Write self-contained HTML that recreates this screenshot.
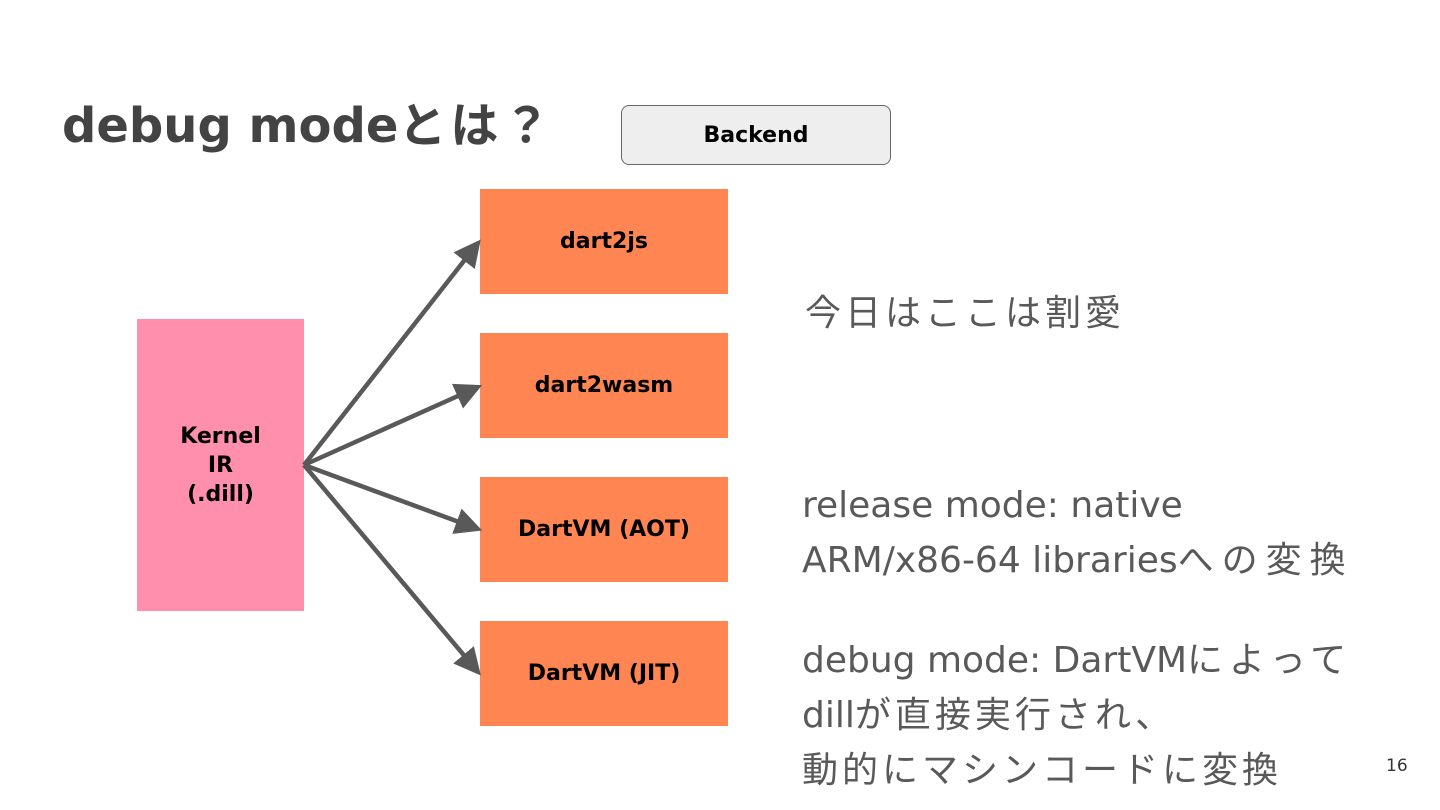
<!DOCTYPE html>
<html><head><meta charset="utf-8"><style>
body{margin:0;width:1440px;height:810px;background:#fff;position:relative;overflow:hidden;font-family:"DejaVu Sans","Noto Sans CJK JP",sans-serif}
.a{position:absolute}
.box{position:absolute;display:flex;align-items:center;justify-content:center;text-align:center;font-weight:bold;font-size:22px;color:#000;line-height:29px;font-family:"DejaVu Sans","Noto Sans CJK JP",sans-serif}
.o{background:#ff8552;left:480px;width:248px;height:105px}
.t{position:absolute;color:#595959;font-size:36px;line-height:55px;font-family:"DejaVu Sans","Noto Sans CJK JP",sans-serif}
.j{letter-spacing:4px}
</style></head><body>
<div class="a" style="left:62px;top:86px;font-size:48px;font-weight:bold;color:#434343;font-family:'DejaVu Sans','Noto Sans CJK JP',sans-serif">debug mode<span class="j">とは？</span></div>
<div class="box" style="left:621px;top:105px;width:270px;height:60px;background:#eeeeee;border:1.5px solid #666;border-radius:8px;box-sizing:border-box">Backend</div>
<div class="box" style="left:137px;top:319px;width:167px;height:292px;background:#ff8fad">Kernel<br>IR<br>(.dill)</div>
<div class="box o" style="top:189px">dart2js</div>
<div class="box o" style="top:333px">dart2wasm</div>
<div class="box o" style="top:477px">DartVM (AOT)</div>
<div class="box o" style="top:621px">DartVM (JIT)</div>
<svg class="a" style="left:0;top:0" width="1440" height="810">
<defs><marker id="m" markerWidth="6" markerHeight="6" refX="5" refY="3" orient="auto" markerUnits="strokeWidth"><path d="M0,0L6,3L0,6z" fill="#595959"/></marker></defs>
<g stroke="#595959" stroke-width="4.5" fill="none" marker-end="url(#m)">
<line x1="304" y1="465" x2="478" y2="243"/>
<line x1="304" y1="465" x2="478" y2="387"/>
<line x1="304" y1="465" x2="478" y2="529"/>
<line x1="304" y1="465" x2="478" y2="672"/>
</g></svg>
<div class="t" style="left:805px;top:286px;letter-spacing:4px">今日はここは割愛</div>
<div class="t" style="left:802px;top:478px">release mode: native<br>ARM/x86-64 libraries<span class="j" style="letter-spacing:8px">への変換</span></div>
<div class="t" style="left:802px;top:633px">debug mode: DartVM<span class="j" style="letter-spacing:6px">によって</span><br>dill<span class="j">が直接実行され、</span><br><span class="j">動的にマシンコードに変換</span></div>
<div class="a" style="left:1386px;top:756px;font-size:17px;color:#333">16</div>
</body></html>
